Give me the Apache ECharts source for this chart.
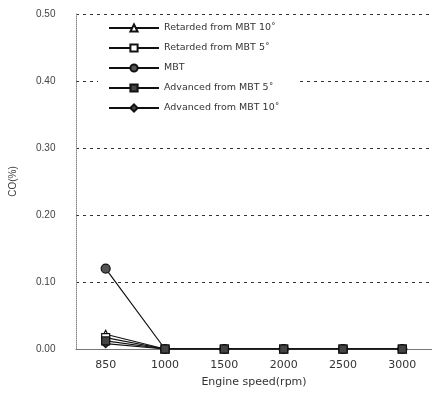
<!DOCTYPE html>
<html>
<head>
<meta charset="utf-8">
<script src="https://cdn.jsdelivr.net/npm/echarts@6/dist/echarts.min.js"></script>
<style>
  html, body { margin: 0; padding: 0; background: #fff; }
  #chart { width: 432px; height: 394px; }
</style>
</head>
<body>
<div id="chart"></div>
<script>
// engine speeds (rpm)
const speeds = ['850', '1000', '1500', '2000', '2500', '3000'];
const yTicks = [0, 0.1, 0.2, 0.3, 0.4, 0.5];

// CO (%) per timing setting
const retarded10 = [0.022, 0, 0, 0, 0, 0];
const retarded5 = [0.017, 0, 0, 0, 0, 0];
const mbt = [0.12, 0, 0, 0, 0, 0];
const advanced5 = [0.012, 0, 0, 0, 0, 0];
const advanced10 = [0.008, 0, 0, 0, 0, 0];

const names = [
  'Retarded from MBT 10\u02da',
  'Retarded from MBT 5\u02da',
  'MBT',
  'Advanced from MBT 5\u02da',
  'Advanced from MBT 10\u02da'
];
const values = [retarded10, retarded5, mbt, advanced5, advanced10];
const symbols = ['triangle', 'rect', 'circle', 'rect', 'diamond'];
const fills = ['#fff', '#fff', '#555', '#444', '#444'];
const sizes = [8, 8, 9, 8, 8];
const layers = [3, 4, 5, 7, 6];

const font = 'Liberation Sans, Arial, sans-serif';
const wideFont = 'DejaVu Sans, sans-serif';

let myChart = echarts.init(document.getElementById('chart'));

let series = values.map((vals, i) => {
  return {
    name: names[i],
    type: 'line',
    data: vals,
    symbol: symbols[i],
    symbolSize: sizes[i],
    showAllSymbol: true,
    z: layers[i],
    lineStyle: { color: '#111', width: 1.2 },
    itemStyle: { color: fills[i], borderColor: '#111', borderWidth: 1.2 }
  };
});

myChart.setOption({
  animation: false,
  textStyle: { fontFamily: font },
  grid: { left: 75, top: 14, width: 360, bottom: 45, containLabel: false },
  legend: {
    orient: 'vertical',
    left: 98,
    top: 18,
    itemWidth: 50,
    itemHeight: 9,
    itemGap: 10,
    padding: [5, 20, 8, 10],
    backgroundColor: '#fff',
    textStyle: { fontSize: 9.5, color: '#333', fontFamily: wideFont },
    data: names
  },
  xAxis: {
    type: 'category',
    data: speeds,
    boundaryGap: true,
    name: 'Engine speed(rpm)',
    nameLocation: 'middle',
    nameGap: 28,
    nameTextStyle: { fontSize: 11, color: '#333', fontFamily: wideFont },
    axisLine: { lineStyle: { color: '#777', width: 1 } },
    axisTick: { inside: true, length: 3, lineStyle: { color: '#777' } },
    axisLabel: { fontSize: 11, color: '#333', margin: 11, fontFamily: wideFont },
    splitLine: { show: false }
  },
  yAxis: {
    type: 'value',
    min: 0,
    max: 0.5,
    interval: 0.1,
    name: 'CO(%)',
    nameLocation: 'middle',
    nameGap: 58,
    nameRotate: 90,
    nameTextStyle: { fontSize: 10, color: '#444' },
    axisLine: { show: true, lineStyle: { color: '#888', type: 'dotted', width: 1 } },
    axisTick: { inside: true, length: 3, lineStyle: { color: '#888' } },
    axisLabel: {
      fontSize: 10,
      color: '#444',
      margin: 40,
      align: 'left',
      formatter: v => v.toFixed(2)
    },
    splitLine: { show: true, lineStyle: { color: '#333', type: [3, 4], width: 1 } }
  },
  series: series
});
</script>
</body>
</html>
